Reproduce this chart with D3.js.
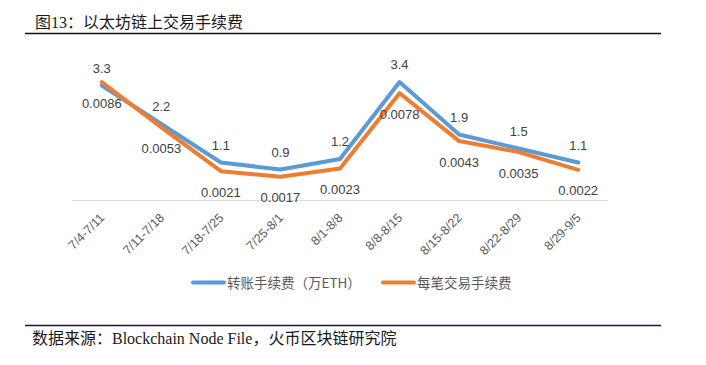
<!DOCTYPE html>
<html>
<head>
<meta charset="utf-8">
<script src="https://cdn.jsdelivr.net/npm/d3@7/dist/d3.min.js"></script>
<style>
  html, body { margin: 0; padding: 0; background: #fff; }
  svg { display: block; }
</style>
</head>
<body>
<svg id="chart" width="706" height="365"></svg>
<script>
const categories = ["7/4-7/11","7/11-7/18","7/18-7/25","7/25-8/1","8/1-8/8","8/8-8/15","8/15-8/22","8/22-8/29","8/29-9/5"];
const transferFee = [3.3, 2.2, 1.1, 0.9, 1.2, 3.4, 1.9, 1.5, 1.1];
const perTxFee = [0.0086, 0.0053, 0.0021, 0.0017, 0.0023, 0.0078, 0.0043, 0.0035, 0.0022];
const transferLabels = ["3.3","2.2","1.1","0.9","1.2","3.4","1.9","1.5","1.1"];
const perTxLabels = ["0.0086","0.0053","0.0021","0.0017","0.0023","0.0078","0.0043","0.0035","0.0022"];
const seriesNames = ["转账手续费（万ETH）", "每笔交易手续费"];
const titleText = "图13：以太坊链上交易手续费";
const sourceText = "数据来源：Blockchain Node File，火币区块链研究院";

const svg = d3.select("#chart");
const blue = "#5B9BD5", orange = "#ED7D31";
const labelColor = "#404040";
const sansFont = "'Liberation Sans', Arial, 'Noto Sans CJK SC', sans-serif";
const serifFont = "'Liberation Serif', 'Times New Roman', 'Noto Sans CJK SC', serif";

// Title
svg.append("text").attr("x", 35).attr("y", 28)
  .attr("font-family", serifFont).attr("font-size", 16).attr("fill", "#1a1a1a")
  .text(titleText);
svg.append("line").attr("x1", 25).attr("x2", 661).attr("y1", 33.5).attr("y2", 33.5)
  .attr("stroke", "#111").attr("stroke-width", 1.5);

// Footer
svg.append("line").attr("x1", 25).attr("x2", 661).attr("y1", 325.5).attr("y2", 325.5)
  .attr("stroke", "#1a1150").attr("stroke-width", 1.5);
svg.append("text").attr("x", 32).attr("y", 344)
  .attr("font-family", serifFont).attr("font-size", 16).attr("fill", "#1a1a1a")
  .text(sourceText);

// Scales
const x = d3.scalePoint().domain(categories).range([72, 608]).padding(0.5);
const yL = d3.scaleLinear().domain([0, 4]).range([201, 61]);
const yR = d3.scaleLinear().domain([0, 0.01]).range([200, 63]);

// X axis
const xAxis = svg.append("g").attr("transform", "translate(0,200.5)")
  .call(d3.axisBottom(x).tickSize(0).tickSizeOuter(0));
xAxis.select(".domain").attr("stroke", "#d9d9d9").attr("stroke-width", 1)
  .attr("d", "M72,0H608");
xAxis.selectAll(".tick text")
  .attr("font-family", sansFont).attr("font-size", 12.5).attr("fill", "#595959")
  .attr("text-anchor", "end")
  .attr("dy", null).attr("y", 0)
  .attr("transform", "translate(3,18) rotate(-45)");

// Lines
const lineL = d3.line().x((d, i) => x(categories[i])).y(d => yL(d));
const lineR = d3.line().x((d, i) => x(categories[i])).y(d => yR(d));

svg.append("path").datum(transferFee).attr("d", lineL)
  .attr("fill", "none").attr("stroke", blue).attr("stroke-width", 4)
  .attr("stroke-linejoin", "round").attr("stroke-linecap", "round");
svg.append("path").datum(perTxFee).attr("d", lineR)
  .attr("fill", "none").attr("stroke", orange).attr("stroke-width", 4)
  .attr("stroke-linejoin", "round").attr("stroke-linecap", "round");

// Data labels
svg.append("g").selectAll("text").data(transferFee).join("text")
  .attr("x", (d, i) => x(categories[i]))
  .attr("y", d => yL(d) - 13)
  .attr("text-anchor", "middle")
  .attr("font-family", sansFont).attr("font-size", 13).attr("fill", labelColor)
  .text((d, i) => transferLabels[i]);
svg.append("g").selectAll("text").data(perTxFee).join("text")
  .attr("x", (d, i) => x(categories[i]))
  .attr("y", d => yR(d) + 25.5)
  .attr("text-anchor", "middle")
  .attr("font-family", sansFont).attr("font-size", 13).attr("fill", labelColor)
  .text((d, i) => perTxLabels[i]);

// Legend
const legendItems = [
  {name: seriesNames[0], color: blue, x: 193},
  {name: seriesNames[1], color: orange, x: 383}
];
const lg = svg.append("g");
legendItems.forEach(it => {
  lg.append("line").attr("x1", it.x).attr("x2", it.x + 31).attr("y1", 282.5).attr("y2", 282.5)
    .attr("stroke", it.color).attr("stroke-width", 4).attr("stroke-linecap", "round");
  lg.append("text").attr("x", it.x + 34).attr("y", 287.5)
    .attr("font-family", "'Noto Sans CJK SC', sans-serif").attr("font-size", 13.5)
    .attr("fill", "#595959").text(it.name);
});
</script>
</body>
</html>
